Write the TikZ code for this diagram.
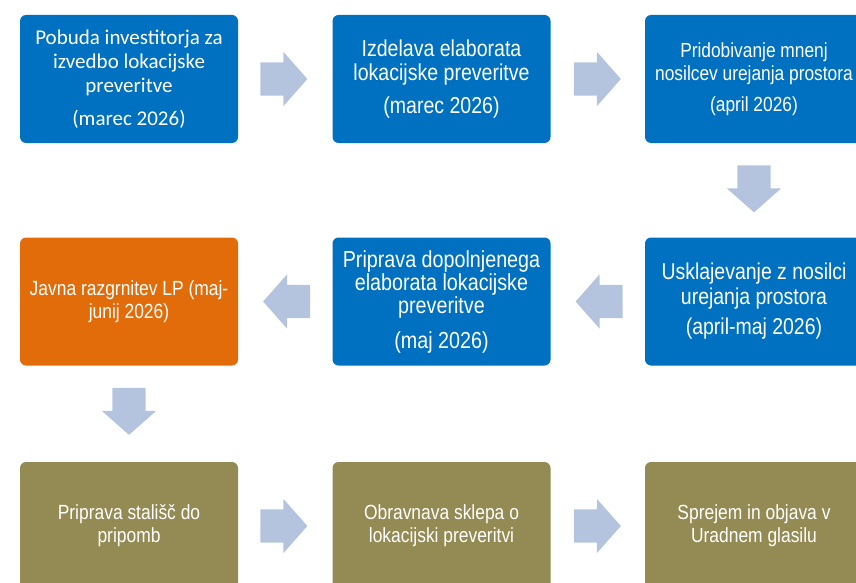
\documentclass[tikz,border=0pt]{standalone}
\usepackage{fontspec}
\setmainfont[FakeStretch=0.85]{Liberation Sans}
\newfontfamily\calibrifont{Carlito}
\usetikzlibrary{shapes.arrows,calc}
\definecolor{lpblue}{RGB}{0,112,192}
\definecolor{lporange}{RGB}{227,108,10}
\definecolor{lpolive}{RGB}{148,138,84}
\definecolor{lparrowfill}{RGB}{180,196,222}

\begin{document}
\begin{tikzpicture}[
    x=1pt, y=-1pt,
    lpbox/.style={rounded corners=6pt, text=white, align=center, minimum width=218pt, minimum height=128pt, inner sep=2pt},
    lpstep/.style={lpbox, fill=lpblue},
    lpjavna/.style={lpbox, fill=lporange},
    lpsklep/.style={lpbox, fill=lpolive},
    lparrow/.style={single arrow, fill=lparrowfill, anchor=tail, minimum height=47pt, inner xsep=0pt, inner ysep=16.5pt, single arrow head extend=10.5pt, single arrow tip angle=97}
]
\clip (0,0) rectangle (856,583);
\node[lpstep, font=\calibrifont\fontsize{21}{24}\selectfont] (pobuda) at (129,79) {Pobuda investitorja za\\izvedbo lokacijske\\preveritve\\[9pt](marec 2026)};
\node[lpstep, font=\fontsize{23}{24}\selectfont] (izdelava) at (441.5,79) {Izdelava elaborata\\lokacijske preveritve\\[9pt](marec 2026)};
\node[lpstep, font=\fontsize{20.4}{23}\selectfont] (mnenja) at (754,79) {Pridobivanje mnenj\\nosilcev urejanja prostora\\[8pt](april 2026)};
\node[lpstep, font=\fontsize{22.9}{25}\selectfont] (usklajevanje) at (754,301.5) {Usklajevanje z nosilci\\urejanja prostora\\[5pt](april-maj 2026)};
\node[lpstep, font=\fontsize{23.2}{23}\selectfont] (dopolnitev) at (441.5,301.5) {Priprava dopolnjenega\\elaborata lokacijske\\preveritve\\[12pt](maj 2026)};
\node[lpjavna, font=\fontsize{20.5}{23}\selectfont] (razgrnitev) at (129,301.5) {Javna razgrnitev LP (maj-\\junij 2026)};
\node[lpsklep, font=\fontsize{20.5}{23}\selectfont] (stalisca) at (129,526) {Priprava stališč do\\pripomb};
\node[lpsklep, font=\fontsize{20.5}{23}\selectfont] (obravnava) at (441.5,526) {Obravnava sklepa o\\lokacijski preveritvi};
\node[lpsklep, font=\fontsize{20.5}{23}\selectfont] (sprejem) at (754,526) {Sprejem in objava v\\Uradnem glasilu};

% puscice med koraki
\node[lparrow] (pobuda-izdelava) at ($(pobuda.east)+(22,0)$) {};
\node[lparrow] (izdelava-mnenja) at ($(izdelava.east)+(23,0)$) {};
\node[lparrow, rotate=270] (mnenja-usklajevanje) at ($(mnenja.south)+(0,22)$) {};
\node[lparrow, rotate=180] (usklajevanje-dopolnitev) at ($(usklajevanje.west)+(-22,0)$) {};
\node[lparrow, rotate=180] (dopolnitev-razgrnitev) at ($(dopolnitev.west)+(-22,0)$) {};
\node[lparrow, rotate=270] (razgrnitev-stalisca) at ($(razgrnitev.south)+(0,22)$) {};
\node[lparrow] (stalisca-obravnava) at ($(stalisca.east)+(22,0)$) {};
\node[lparrow] (obravnava-sprejem) at ($(obravnava.east)+(23,0)$) {};
\end{tikzpicture}
\end{document}
